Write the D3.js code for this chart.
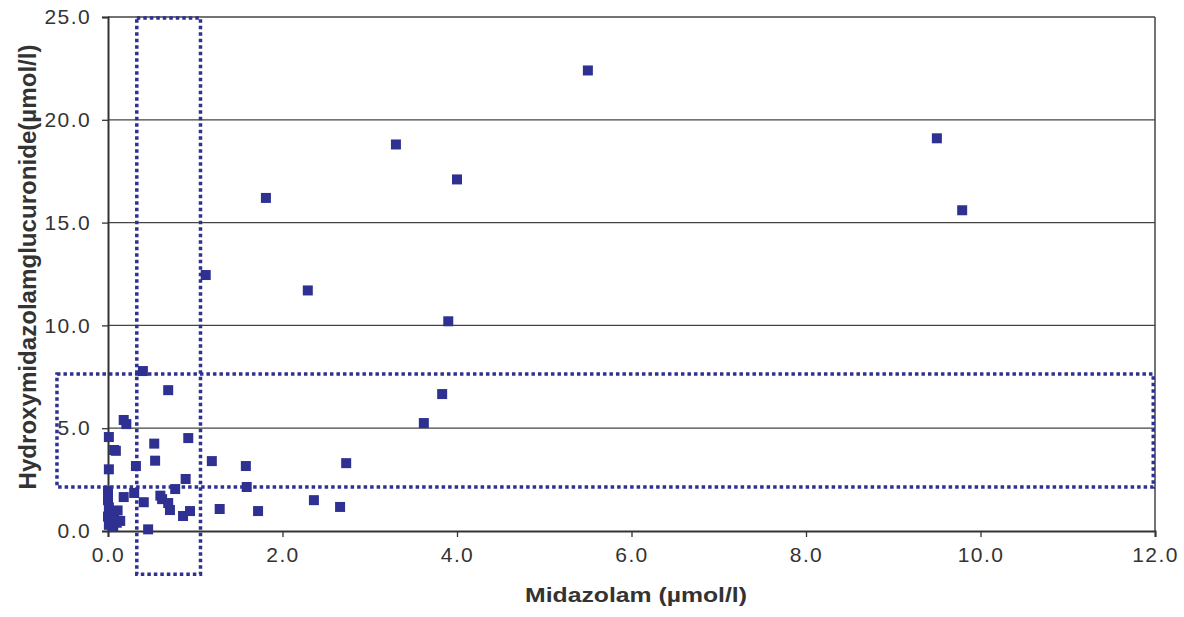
<!DOCTYPE html>
<html>
<head>
<meta charset="utf-8">
<script src="https://cdn.jsdelivr.net/npm/d3@7"></script>
<style>
  body { margin: 0; background: #fff; }
  text { font-family: "Liberation Sans", Arial, sans-serif; fill: #333; }
</style>
</head>
<body>
<div id="chart"></div>
<script>
// Midazolam (x) vs hydroxymidazolamglucuronide (y), both in µmol/l
const midazolam = [
  5.50, 9.50, 9.79, 3.30, 4.00, 1.81, 1.12, 2.29, 3.90, 3.83,
  3.62, 2.73, 2.36, 2.66, 1.58, 1.59, 1.72, 1.19, 1.28, 0.69,
  0.40, 0.18, 0.21, 0.07, 0.09, 0.01, 0.01, 0.32, 0.53, 0.54,
  0.92, 0.89, 0.77, 0.60, 0.62, 0.69, 0.71, 0.86, 0.94, 0.46,
  0.41, 0.30, 0.18, 0.11, 0.14, 0.00, 0.00, 0.01, 0.00, 0.01,
  0.05, 0.07, 0.06, 0.10
];
const glucuronide = [
  22.4, 19.1, 15.6, 18.8, 17.1, 16.2, 12.45, 11.7, 10.2, 6.66,
  5.25, 3.3, 1.5, 1.17, 3.16, 2.14, 0.97, 3.4, 1.07, 6.85,
  7.78, 5.4, 5.2, 3.94, 3.9, 4.57, 3.0, 3.16, 4.25, 3.42,
  4.52, 2.53, 2.04, 1.72, 1.55, 1.36, 1.02, 0.73, 0.97, 0.08,
  1.4, 1.85, 1.65, 1.0, 0.49, 1.95, 1.5, 1.15, 0.7, 0.3,
  0.55, 0.85, 0.2, 0.4
];
const xTicks = [0, 2, 4, 6, 8, 10, 12];
const yTicks = [0, 5, 10, 15, 20, 25];
// dotted annotation boxes, data units [x0, x1, y0, y1]
const boxes = [
  [0.33, 1.06, -2.1, 24.95],
  [-0.585, 11.98, 2.14, 7.64]
];

const points = midazolam.map((x, i) => ({x: x, y: glucuronide[i]}));

const width = 1184, height = 617;
const margin = {top: 17, right: 29, bottom: 86, left: 108};

const svg = d3.select("#chart").append("svg")
  .attr("width", width)
  .attr("height", height);

const x = d3.scaleLinear().domain([0, 12]).range([margin.left, width - margin.right]);
const y = d3.scaleLinear().domain([0, 25]).range([height - margin.bottom, margin.top]);

// horizontal gridlines
svg.append("g")
  .selectAll("line")
  .data(yTicks.filter(d => d > 0))
  .enter().append("line")
  .attr("x1", x(0)).attr("x2", x(12))
  .attr("y1", d => y(d)).attr("y2", d => y(d))
  .attr("stroke", "#444").attr("stroke-width", 1.3);

// right border
svg.append("line")
  .attr("x1", x(12)).attr("x2", x(12))
  .attr("y1", y(0)).attr("y2", y(25))
  .attr("stroke", "#444").attr("stroke-width", 1.5);

// axes
const xAxis = svg.append("g")
  .attr("transform", "translate(0," + y(0) + ")")
  .call(d3.axisBottom(x).tickValues(xTicks).tickFormat(d3.format(".1f")).tickSize(6).tickPadding(10));
const yAxis = svg.append("g")
  .attr("transform", "translate(" + x(0) + ",0)")
  .call(d3.axisLeft(y).tickValues(yTicks).tickFormat(d3.format(".1f")).tickSize(6).tickPadding(11));

[xAxis, yAxis].forEach(a => {
  a.select(".domain").attr("stroke", "#333").attr("stroke-width", 2);
  a.selectAll(".tick line").attr("stroke", "#333").attr("stroke-width", 1.3);
  a.selectAll(".tick text")
    .style("font-size", "21px")
    .style("letter-spacing", "1.4px")
    .style("font-family", "'Liberation Sans', Arial, sans-serif")
    .attr("fill", "#333");
});

// points
svg.append("g")
  .selectAll("rect")
  .data(points)
  .enter().append("rect")
  .attr("x", d => x(d.x) - 5)
  .attr("y", d => y(d.y) - 5)
  .attr("width", 10).attr("height", 10)
  .attr("fill", "#2e3192");

// dotted boxes
svg.append("g")
  .selectAll("rect")
  .data(boxes)
  .enter().append("rect")
  .attr("x", d => x(d[0]))
  .attr("y", d => y(d[3]))
  .attr("width", d => x(d[1]) - x(d[0]))
  .attr("height", d => y(d[2]) - y(d[3]))
  .attr("fill", "none")
  .attr("stroke", "#2e3192")
  .attr("stroke-width", 3.5)
  .attr("stroke-dasharray", "3.5,3");

// axis titles
svg.append("text")
  .attr("x", 636)
  .attr("y", 602)
  .attr("text-anchor", "middle")
  .attr("textLength", 222)
  .attr("lengthAdjust", "spacingAndGlyphs")
  .style("font-size", "21px")
  .style("font-weight", "bold")
  .text("Midazolam (µmol/l)");

svg.append("text")
  .attr("transform", "translate(36," + 267 + ") rotate(-90)")
  .attr("text-anchor", "middle")
  .attr("textLength", 445)
  .attr("lengthAdjust", "spacingAndGlyphs")
  .style("font-size", "23px")
  .style("font-weight", "bold")
  .text("Hydroxymidazolamglucuronide(µmol/l)");
</script>
</body>
</html>
